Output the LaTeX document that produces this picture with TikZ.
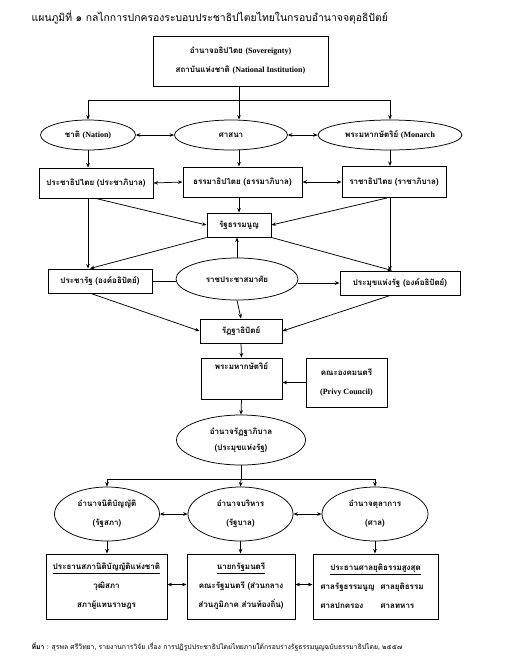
\documentclass[tikz,border=0pt]{standalone}
\usepackage{fontspec}
\setmainfont{Liberation Serif}
\newfontfamily\thai[Script=Thai]{Loma}
\usetikzlibrary{arrows.meta,shapes.geometric}

\tikzset{every picture/.style={line width=0.75pt}}
\tikzset{
  box/.style={draw,line width=1pt,rectangle,inner sep=0pt,align=center,
    font=\thai\bfseries\fontsize{8}{19}\selectfont},
  oval/.style={draw,ellipse,inner sep=0pt,align=center,
    font=\thai\bfseries\fontsize{8}{19}\selectfont},
  link/.style={-{Stealth[length=4.5pt,width=3.6pt]}},
  both/.style={{Stealth[length=4.5pt,width=3.6pt]}-{Stealth[length=4.5pt,width=3.6pt]}},
}

\begin{document}
\begin{tikzpicture}[x=1pt,y=1pt,yscale=-1,xscale=1]
\useasboundingbox (0,0) rectangle (523,667);

% Text Node
\node (title) [anchor=west,font=\thai\fontsize{10.4}{12}\selectfont] at (28,18) {แผนภูมิที่ ๑ กลไกการปกครองระบอบประชาธิปไตยไทยในกรอบอำนาจจตุอธิปัตย์};

%Rect
\node (top) [box,minimum width=175,minimum height=50] at (240.5,61) {อำนาจอธิปไตย {\rmfamily (Sovereignty)}\\สถาบันแห่งชาติ {\rmfamily (National Institution)}};

%Ellipse
\node (nat) [oval,minimum width=95,minimum height=30] at (88,135) {ชาติ {\rmfamily (Nation)}};
\node (rel) [oval,minimum width=113,minimum height=30] at (231,135) {ศาสนา};
\node (mon) [oval,minimum width=144,minimum height=30] at (390,135) {พระมหากษัตริย์ {\rmfamily (Monarch}};

%Rect
\node (demo) [box,minimum width=114,minimum height=30] at (96,183) {ประชาธิปไตย (ประชาภิบาล)};
\node (dham) [box,minimum width=119,minimum height=30] at (242.5,182) {ธรรมาธิปไตย (ธรรมาภิบาล)};
\node (raja) [box,minimum width=104,minimum height=31] at (394,182) {ราชาธิปไตย (ราชาภิบาล)};

\node (cons) [box,minimum width=64,minimum height=24] at (239,225) {รัฐธรรมนูญ};

\node (prr) [box,minimum width=104,minimum height=24] at (100,281) {ประชารัฐ (องค์อธิปัตย์)};
\node (rps) [oval,minimum width=122,minimum height=42] at (237,279) {ราชประชาสมาศัย};
\node (phr) [box,minimum width=120,minimum height=24] at (400,283) {ประมุขแห่งรัฐ (องค์อธิปัตย์)};

\node (rath) [box,minimum width=82,minimum height=24] at (241,331) {รัฏฐาธิปัตย์};
\node (king) [box,minimum width=81,minimum height=41] at (241.5,378.5) {พระมหากษัตริย์\\\strut};
\node (priv) [box,minimum width=81,minimum height=49] at (346.5,382.5) {คณะองคมนตรี\\{\rmfamily (Privy Council)}};

\node (pow) [oval,minimum width=129,minimum height=50,font=\thai\bfseries\fontsize{8}{16}\selectfont] at (241,440) {อำนาจรัฏฐาภิบาล\\(ประมุขแห่งรัฐ)};

\node (leg) [oval,minimum width=105,minimum height=54] at (107,514) {อำนาจนิติบัญญัติ\\(รัฐสภา)};
\node (exe) [oval,minimum width=105,minimum height=54] at (240.5,514) {อำนาจบริหาร\\(รัฐบาล)};
\node (jud) [oval,minimum width=106,minimum height=54] at (375,514) {อำนาจตุลาการ\\(ศาล)};

\node (legb) [box,minimum width=121,minimum height=65] at (106.5,586.5) {\underline{ประธานสภานิติบัญญัติแห่งชาติ}\\วุฒิสภา\\สภาผู้แทนราษฎร};
\node (exeb) [box,minimum width=108,minimum height=65] at (241,586.5) {\underline{นายกรัฐมนตรี}\\คณะรัฐมนตรี (ส่วนกลาง\\ส่วนภูมิภาค ส่วนท้องถิ่น)};
\node (judb) [box,minimum width=125,minimum height=65] at (375.5,586.5) {\underline{ประธานศาลยุติธรรมสูงสุด}\\\makebox[60pt][l]{ศาลรัฐธรรมนูญ}\makebox[50pt][l]{ศาลยุติธรรม}\\\makebox[60pt][l]{ศาลปกครอง}\makebox[50pt][l]{ศาลทหาร}};

%Straight Lines
\coordinate (s1) at (239,100);
\draw (top.south -| s1) -- (s1);
\draw (nat.north |- s1) -- (mon.north |- s1);
\draw [link] (nat.north |- s1) -- (nat.north);
\draw [link] (s1) -- (s1 |- rel.north);
\draw [link] (mon.north |- s1) -- (mon.north);
\draw [both] (nat.east) -- (rel.west);
\draw [both] (rel.east) -- (mon.west);

\draw [link] (nat.south) -- (nat.south |- demo.north);
\draw [link] (s1 |- rel.south) -- (s1 |- dham.north);
\draw [link] (mon.south) -- (mon.south |- raja.north);
\draw [both] (demo.east) -- (dham.west);
\draw [both] (dham.east) -- (raja.west);

\draw [link] (cons.north |- dham.south) -- (cons.north);
\draw [link] (demo.south) -- (cons.west);
\draw [link] ([xshift=-7]raja.south) -- (cons.east);

\draw [link] (nat.south |- demo.south) -- (nat.south |- prr.north);
\draw [link] (mon.south |- raja.south) -- (mon.south |- phr.north);
\draw [link] (cons.south west) -- ([xshift=2]nat.south |- prr.north);
\draw [link] (cons.south east) -- ([xshift=2]mon.south |- phr.north);

\draw (prr.east) -- (prr.east -| rps.west);
\draw [link] (rps.east |- phr.west) -- (phr.west);
\draw [link] (rps.north) -- (rps.north |- cons.south);

\draw [link] (rps.south) -- (rath.north);
\draw [link] ([xshift=-9]prr.south) -- (rath.west);
\draw [link] ([xshift=-10]phr.south) -- (rath.east);
\draw [link] (rath.south) -- (king.north);
\draw [link] (priv.west) -- (priv.west -| king.east);
\draw [link] (king.south) -- (pow.north);

\coordinate (s2) at (241,479);
\draw (pow.south) -- (s2);
\draw (leg.north |- s2) -- (jud.north |- s2);
\draw [link] (leg.north |- s2) -- (leg.north);
\draw [link] (s2) -- (exe.north);
\draw [link] (jud.north |- s2) -- (jud.north);
\draw [both] (leg.east) -- (exe.west);
\draw [both] (exe.east) -- (jud.west);

\draw [link] (leg.south) -- (leg.south |- legb.north);
\draw [link] (exe.south) -- (exe.south |- exeb.north);
\draw [link] (jud.south) -- (jud.south |- judb.north);
\draw [both] ([yshift=-2]legb.east) -- ([yshift=-2]exeb.west);
\draw [both] ([yshift=-2]exeb.east) -- ([yshift=-2]judb.west);

% Text Node
\node (src) [anchor=west,font=\thai\fontsize{6.8}{9}\selectfont] at (28,647) {\textbf{ที่มา} : สุรพล ศรีวิทยา, รายงานการวิจัย เรื่อง การปฏิรูปประชาธิปไตยไทยภายใต้กรอบร่างรัฐธรรมนูญฉบับธรรมาธิปไตย, ๒๕๕๗};

\end{tikzpicture}
\end{document}
